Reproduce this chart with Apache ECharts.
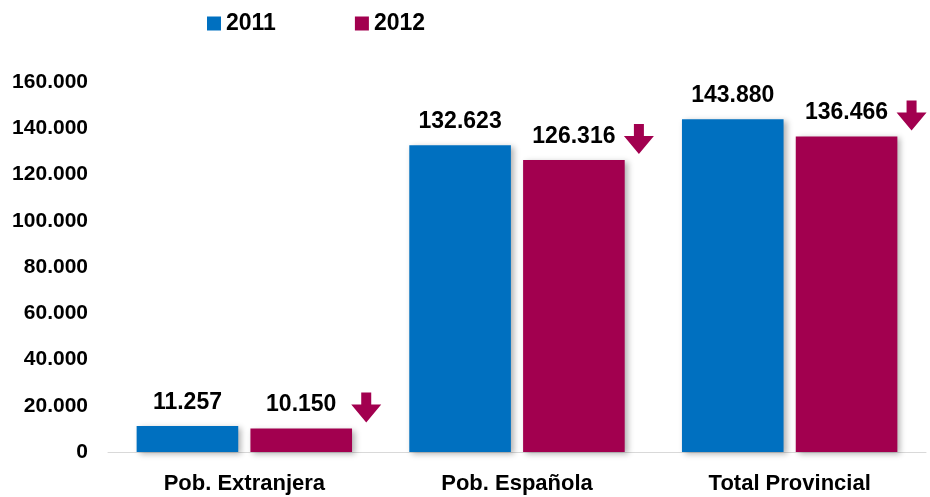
<!DOCTYPE html>
<html>
<head>
<meta charset="utf-8">
<script src="https://cdn.jsdelivr.net/npm/echarts@6/dist/echarts.min.js"></script>
<style>
html, body { margin: 0; padding: 0; background: #fff; }
#chart { width: 930px; height: 497px; }
</style>
</head>
<body>
<div id="chart"></div>
<script type="text/javascript">

var categories = ['Pob. Extranjera', 'Pob. Española', 'Total Provincial'];
var seriesNames = ['2011', '2012'];
var values2011 = [11257, 132623, 143880];
var values2012 = [10150, 126316, 136466];
var yMin = 0;
var yMax = 160000;
var yStep = 20000;

var blue = '#0070C0';
var maroon = '#A2004F';
var fontFamily = '"Liberation Sans", Arial, sans-serif';

// punto como separador de miles
function fmt(n) {
	return String(Math.round(n)).replace(/\B(?=(\d{3})+(?!\d))/g, '.');
}

var arrowPath = 'path://M10,0 L20,0 L20,12 L30,12 L15,30 L0,12 L10,12 Z';

var barShadow = {
	shadowBlur: 6,
	shadowColor: 'rgba(0,0,0,0.3)',
	shadowOffsetX: 3,
	shadowOffsetY: 2
};

var option = {
	animation: false,
	backgroundColor: '#fff',
	textStyle: { fontFamily: fontFamily },
	legend: {
		left: 202,
		top: 7,
		itemWidth: 14,
		itemHeight: 14,
		itemGap: 79,
		icon: 'rect',
		textStyle: { fontSize: 23, fontWeight: 'bold', color: '#000', fontFamily: fontFamily },
		data: seriesNames
	},
	grid: { left: 108, right: 4, top: 82, bottom: 45 },
	xAxis: {
		type: 'category',
		data: categories,
		axisLine: { lineStyle: { color: '#d9d9d9', width: 1 } },
		axisTick: { show: false },
		axisLabel: { color: '#000', fontSize: 22, fontWeight: 'bold', margin: 21, fontFamily: fontFamily }
	},
	yAxis: {
		type: 'value',
		min: yMin,
		max: yMax,
		interval: yStep,
		axisLine: { show: false },
		axisTick: { show: false },
		splitLine: { show: false },
		axisLabel: {
			color: '#000', fontSize: 21, fontWeight: 'bold', margin: 20, fontFamily: fontFamily,
			formatter: function (v) { return fmt(v); }
		}
	},
	series: [
		{
			name: seriesNames[0],
			type: 'bar',
			data: values2011,
			barGap: '12%',
			barCategoryGap: '21%',
			itemStyle: Object.assign({ color: blue }, barShadow),
			label: {
				show: true, position: 'top', distance: 12,
				color: '#000', fontSize: 23, fontWeight: 'bold', fontFamily: fontFamily,
				formatter: function (p) { return fmt(p.value); }
			}
		},
		{
			name: seriesNames[1],
			type: 'bar',
			data: values2012,
			barGap: '12%',
			barCategoryGap: '21%',
			itemStyle: Object.assign({ color: maroon }, barShadow),
			label: {
				show: true, position: 'top', distance: 12,
				color: '#000', fontSize: 23, fontWeight: 'bold', fontFamily: fontFamily,
				formatter: function (p) { return fmt(p.value); }
			},
			markPoint: {
				symbol: arrowPath,
				symbolSize: [30, 30],
				symbolOffset: [65, -21],
				itemStyle: { color: maroon },
				label: { show: false },
				data: values2012.map(function (v, i) {
					return { coord: [i, v] };
				})
			}
		}
	]
};

var chart = echarts.init(document.getElementById('chart'));
chart.setOption(option);
</script>
</body>
</html>
